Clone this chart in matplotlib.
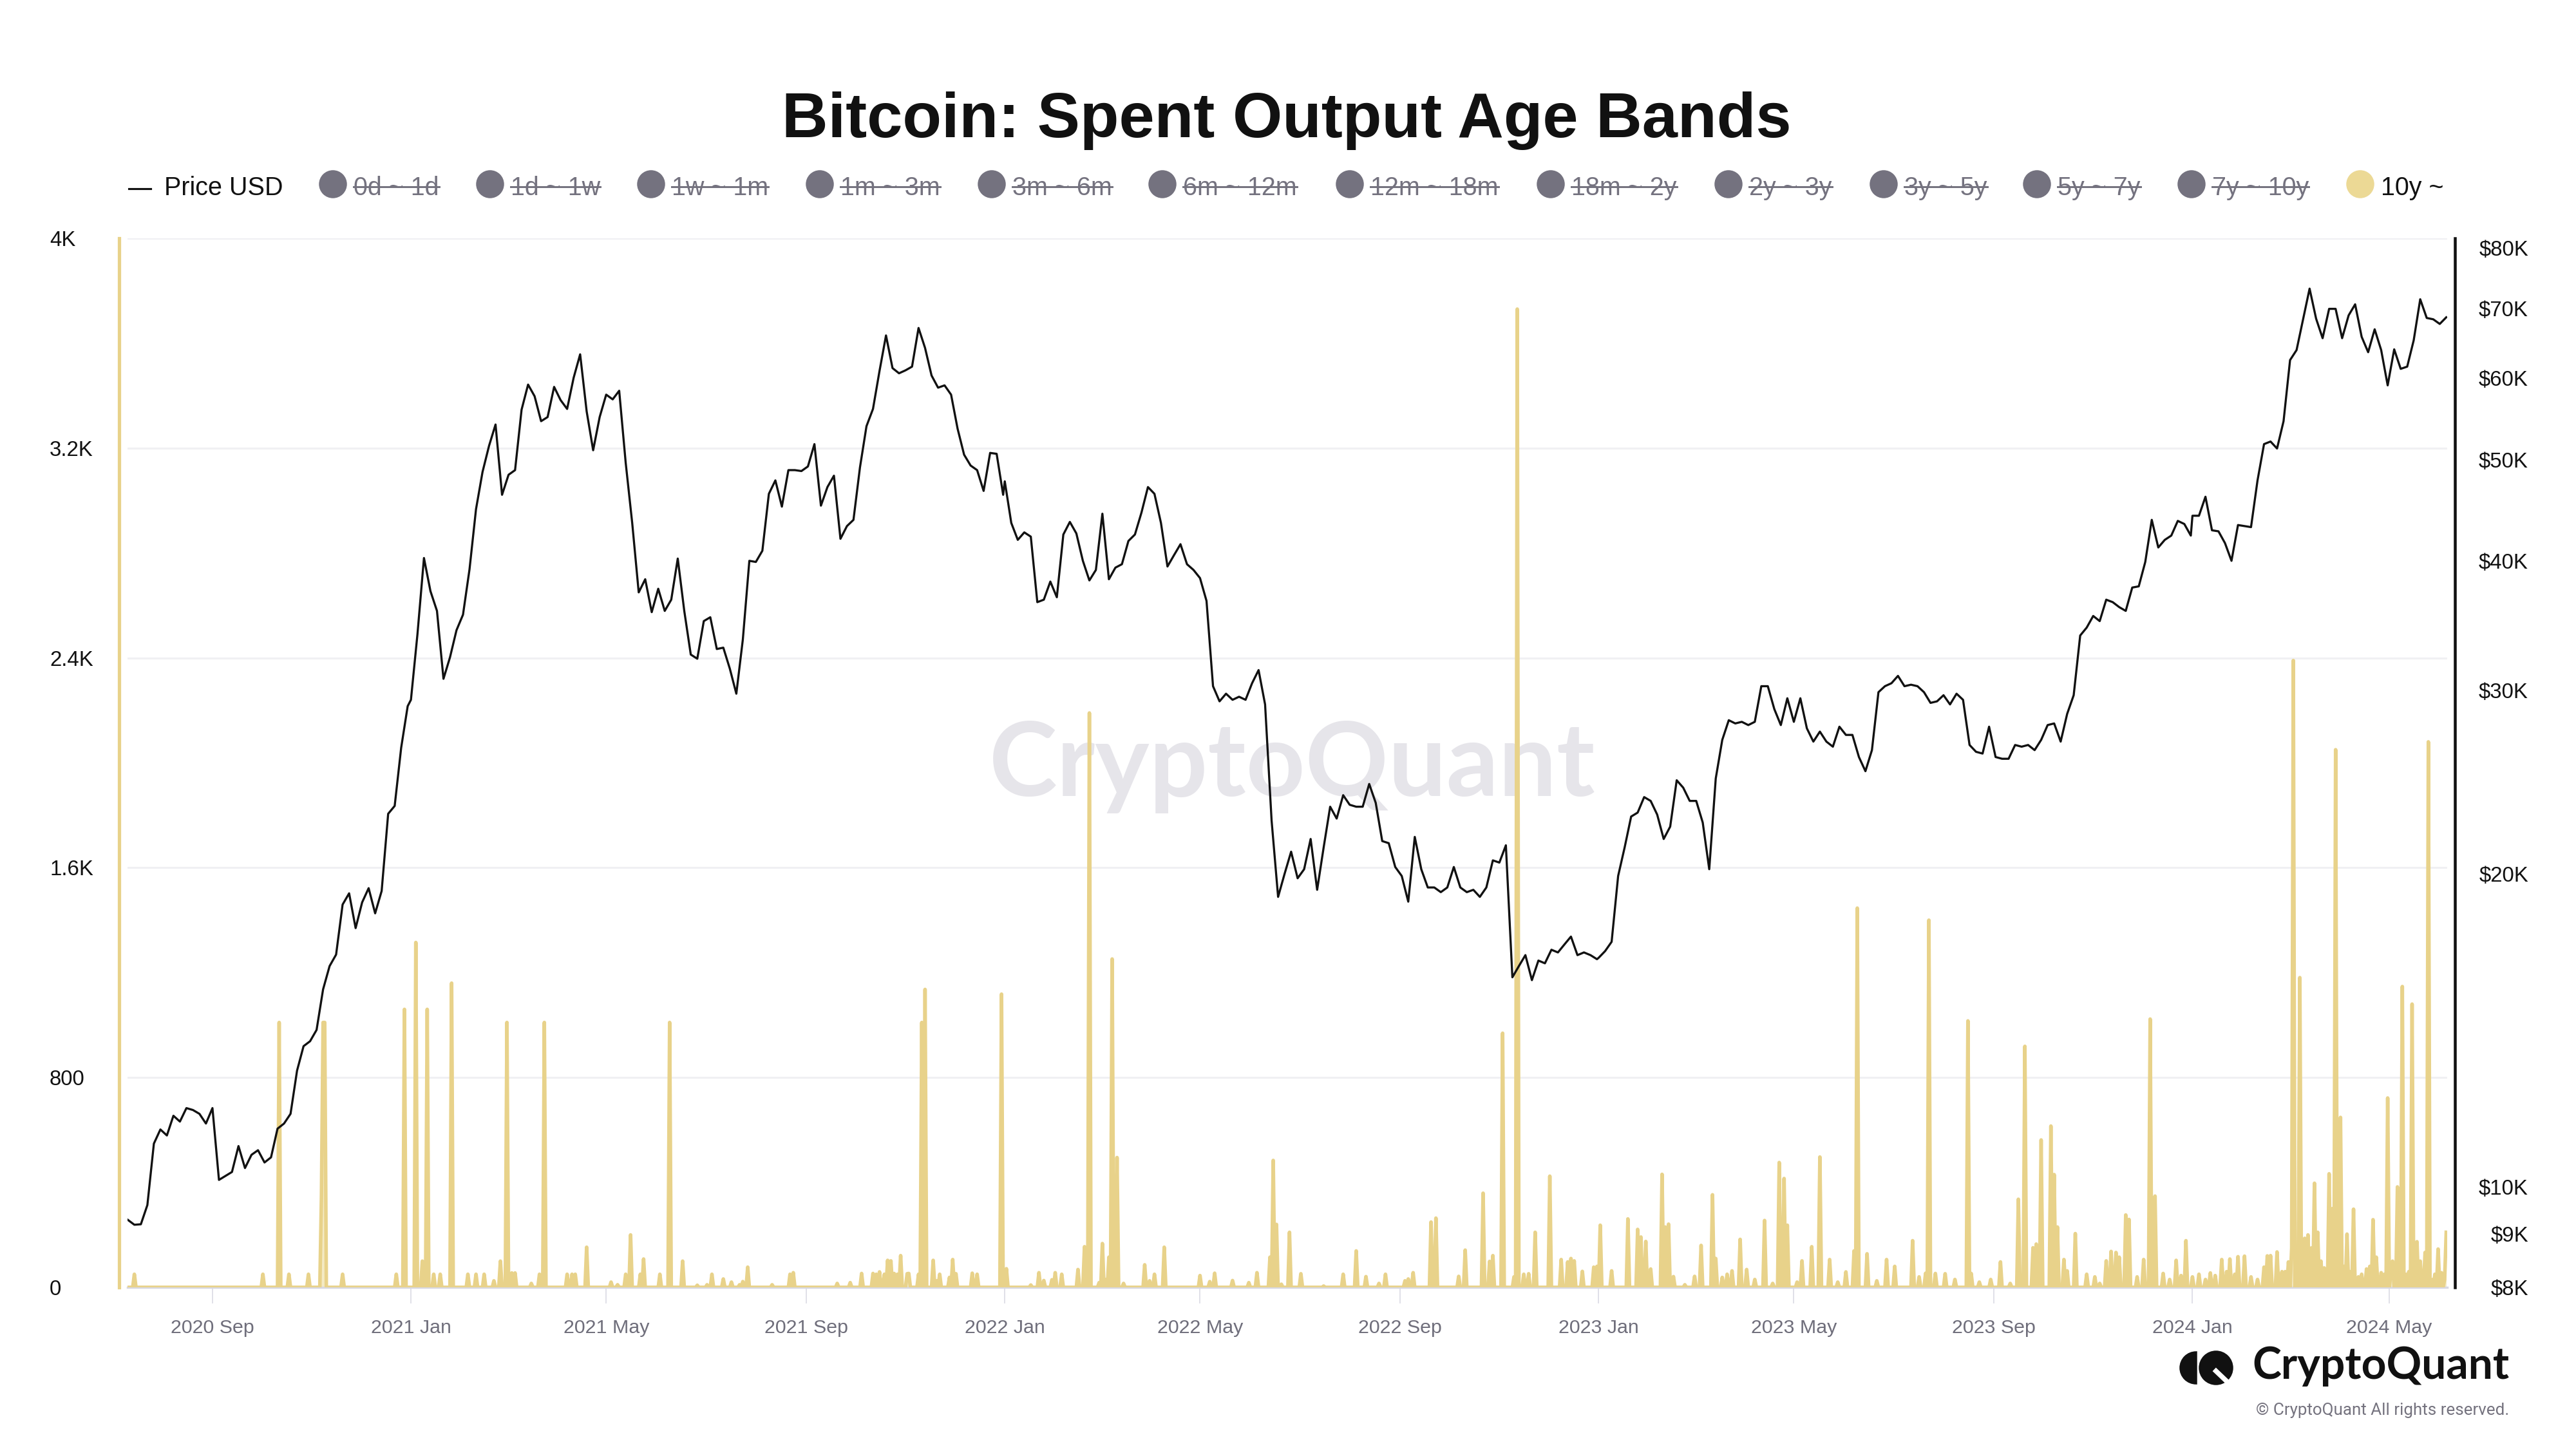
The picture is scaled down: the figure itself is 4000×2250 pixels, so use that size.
import numpy as np
import pandas as pd
import matplotlib
matplotlib.use("Agg")
import matplotlib.pyplot as plt
import matplotlib.dates as mdates
from matplotlib.patches import Circle, Wedge
from matplotlib.lines import Line2D
from matplotlib.transforms import IdentityTransform

# ---------------- data ----------------
title = "Bitcoin: Spent Output Age Bands"
legend_bands = ["0d ~ 1d", "1d ~ 1w", "1w ~ 1m", "1m ~ 3m", "3m ~ 6m", "6m ~ 12m",
                "12m ~ 18m", "18m ~ 2y", "2y ~ 3y", "3y ~ 5y", "5y ~ 7y", "7y ~ 10y"]
active_band = "10y ~"

# BTC price (USD), one value every 4 days from each start date
price_2020_start = "2020-07-11"
price_2020 = [9290, 9190, 9200, 9600, 11000, 11350,
              11200, 11700, 11550, 11900, 11850, 11750, 11500,
              11900, 10150, 10240, 10330, 10940, 10420, 10730, 10840,
              10550, 10670, 11370, 11500, 11750, 12930, 13650, 13800,
              14150, 15480, 16300, 16720, 18680, 19150, 17730,
              18770, 19370, 18320, 19250, 22840, 23240, 26440, 28990]
price_2021_start = "2021-01-01"
price_2021 = [29400, 33990, 40250, 37400, 35800, 30800, 32300, 34300,
              35500, 39250, 44850, 48700, 51600, 54100, 46300,
              48400, 48900, 55900, 59100, 57600, 54500, 55000, 58800,
              57100, 56000, 60000, 63200, 55700, 51100, 55000,
              57800, 57200, 58300, 49700, 43500, 37300, 38400, 35700,
              37600, 35800, 36700, 40200, 35800, 32500, 32200, 35000,
              35300, 32900, 33000, 31500, 29800, 33600, 40000,
              39900, 40900, 46400, 47800, 45100, 48900, 48900, 48800,
              49300, 51800, 45200, 47100, 48300, 42000, 43200, 43800,
              49200, 53900, 56000, 60900, 65900, 61300, 60600,
              61000, 61500, 67000, 64100, 60300, 58700, 59000, 57800,
              53600, 50600, 49400, 48900, 46700, 50800, 50700, 46300]
price_2022_start = "2022-01-01"
price_2022 = [47700, 43500, 41900, 42600, 42200, 36500, 36700, 38200,
              36900, 42400, 43600, 42500, 40000, 38300, 39200,
              44400, 38400, 39400, 39700, 41800, 42400, 44500, 47100,
              46400, 43500, 39500, 40500, 41500, 39700, 39200,
              38500, 36600, 30300, 29300, 29800, 29400, 29600, 29400,
              30500, 31400, 29100, 22500, 19000, 20000, 21000, 19800,
              20200, 21600, 19300, 21200, 23200, 22600, 23800,
              23300, 23200, 23200, 24400, 23400, 21500, 21400, 20300,
              19900, 18800, 21700, 20200, 19400, 19400, 19200, 19400,
              20300, 19400, 19200, 19300, 19000, 19400, 20600,
              20500, 21300, 15900, 16300, 16700, 15800, 16500, 16400,
              16900, 16800, 17100, 17400, 16700, 16800, 16700, 16550]
price_2023_start = "2023-01-01"
price_2023 = [16600, 16850, 17200, 19900, 21200, 22700, 22900, 23700,
              23500, 22800, 21600, 22200, 24600, 24200, 23500,
              23500, 22400, 20200, 24700, 26900, 28100, 27900, 28000,
              27800, 28000, 30300, 30300, 28800, 27800, 29500,
              28000, 29500, 27600, 26800, 27400, 26800, 26500, 27700,
              27200, 27200, 25900, 25100, 26300, 29900, 30300, 30500,
              31000, 30300, 30400, 30300, 29900, 29200, 29300,
              29700, 29100, 29800, 29400, 26600, 26200, 26100, 27700,
              25900, 25800, 25800, 26600, 26500, 26600, 26300, 26900,
              27800, 27900, 26800, 28500, 29700, 33900, 34500,
              35400, 35000, 36700, 36500, 36100, 35800, 37700, 37800,
              39900, 43800, 41200, 41900, 42300, 43700, 43400, 42300]
price_2024_start = "2024-01-01"
price_2024 = [44200, 44200, 46100, 42800, 42700, 41600, 40000, 43300,
              43200, 43100, 47800, 51800, 52100, 51300, 54500,
              62400, 63800, 68300, 73100, 68400, 65500, 69900, 69900,
              65500, 68900, 70600, 65700, 63500, 66800, 63800, 59000,
              63900, 61200, 61500, 65200, 71400, 68500, 68300,
              67600, 68600]

# Spent output 10y~ band (BTC): day offsets from band_origin and values
band_origin = "2020-07-06"
band_first, band_last = "2020-07-11", "2024-06-05"
band_day = [9, 88, 98, 104, 116, 124, 125, 126, 137, 170, 175, 182, 186, 189, 193, 197,
            204, 214, 219, 224, 230, 234, 238, 241, 243, 253, 258, 261, 275, 278, 280,
            287, 302, 306, 311, 314, 320, 322, 332, 338, 346, 355,
            361, 364, 371, 376, 381, 383, 386, 401, 412, 414, 441, 449, 456, 463, 465,
            467, 470, 472, 474, 476, 478, 480, 484, 485, 491, 493, 495, 500, 502, 504,
            510, 512, 514, 524, 527, 542, 545, 560, 565, 568, 573, 575, 579, 589, 593,
            596, 602, 604, 606, 608, 610, 613, 617, 630, 633, 636, 642, 664, 670, 673,
            684, 694, 699, 707, 709, 711, 714,
            719, 726, 740, 752, 760, 766, 774, 778, 790, 792, 795, 806, 809, 823, 827,
            838, 842, 844, 850, 857, 859, 863, 866, 870, 879, 886, 890, 892, 894, 899,
            906, 908, 910, 917, 927, 933, 935, 938, 941, 948, 950, 952, 955, 962, 968,
            972, 979, 981, 985, 988, 991, 996, 1000, 1005, 1011, 1016, 1020, 1023, 1025,
            1031, 1034, 1040, 1045, 1051, 1056, 1061, 1066, 1068, 1074,
            1080, 1086, 1091, 1102, 1106, 1110, 1112, 1116, 1122, 1128, 1136, 1138, 1143,
            1150, 1156, 1162, 1167, 1171, 1176, 1178, 1181, 1187, 1189, 1191, 1195, 1197,
            1202, 1209, 1214, 1217, 1221, 1224, 1227, 1229, 1233, 1235, 1240, 1244, 1248,
            1251, 1256, 1260, 1264, 1267, 1270, 1274, 1278, 1282, 1285, 1288, 1292, 1295,
            1297, 1300, 1302, 1306, 1310, 1314, 1318, 1320, 1322, 1326, 1329, 1331, 1333,
            1335, 1336, 1338, 1340, 1343, 1345, 1347, 1349, 1351, 1353, 1355, 1358, 1360,
            1362, 1365, 1367, 1369, 1371, 1373, 1376, 1378, 1381, 1383, 1385, 1387, 1390,
            1392, 1394, 1396, 1397, 1400, 1403, 1405, 1407, 1409, 1412, 1414, 1417, 1419,
            1421, 1423, 1425, 1427, 1429, 1430]
band_val = [50, 50, 1010, 50, 50, 350, 1010, 1010, 50, 50, 1060, 1315, 100, 1060, 50, 50,
            1160, 50, 50, 50, 25, 100, 1010, 55, 55, 15, 50, 1010, 50, 50, 50,
            153, 20, 10, 50, 200, 50, 108, 50, 1010, 100, 8,
            10, 50, 32, 20, 10, 22, 77, 10, 50, 56, 15, 18, 53, 53, 50,
            59, 50, 103, 101, 53, 50, 121, 52, 53, 50, 1010, 1136, 103, 25, 50,
            38, 106, 52, 54, 50, 1118, 71, 9, 56, 26, 29, 56, 50, 68, 155,
            2190, 18, 167, 30, 115, 1252, 495, 15, 86, 25, 50, 153, 45, 22, 54,
            26, 18, 56, 115, 484, 240, 12,
            210, 52, 5, 50, 139, 41, 15, 50, 25, 32, 56, 249, 264, 42, 142,
            359, 99, 121, 969, 40, 3730, 50, 52, 210, 424, 106, 97, 110, 101, 61,
            77, 80, 237, 63, 261, 221, 192, 175, 70, 431, 230, 241, 41, 10, 42,
            160, 353, 110, 38, 50, 63, 183, 68, 30, 255, 15, 476, 415, 237,
            20, 101, 155, 497, 106, 20, 59, 139, 1446, 128,
            25, 106, 80, 178, 40, 54, 1400, 53, 52, 30, 1016, 53, 20,
            30, 97, 15, 336, 919, 151, 165, 562, 615, 430, 230, 106, 63,
            205, 50, 40, 15, 101, 137, 133, 115, 276, 259, 40, 106, 1023,
            348, 53, 30, 103, 45, 178, 40, 50, 30, 55, 45, 106, 60,
            108, 50, 117, 119, 40, 30, 77, 120, 121, 135, 60, 60, 97,
            150, 2390, 120, 1181, 187, 200, 150, 397, 210, 100, 74, 433, 300,
            2050, 648, 80, 203, 60, 298, 40, 50, 70, 80, 258, 115, 56,
            50, 722, 60, 100, 383, 1147, 50, 60, 1080, 174, 100, 133, 2080,
            30, 50, 146, 56, 30, 210]

left_ticks = [0, 800, 1600, 2400, 3200, 4000]
left_labels = ["0", "800", "1.6K", "2.4K", "3.2K", "4K"]
right_ticks = [8000, 9000, 10000, 20000, 30000, 40000, 50000, 60000, 70000, 80000]
right_labels = ["$8K", "$9K", "$10K", "$20K", "$30K", "$40K", "$50K", "$60K", "$70K", "$80K"]
x_ticks = ["2020-09-01", "2021-01-01", "2021-05-01", "2021-09-01", "2022-01-01", "2022-05-01",
           "2022-09-01", "2023-01-01", "2023-05-01", "2023-09-01", "2024-01-01", "2024-05-01"]

# ---------------- build series ----------------
def seg(start, vals):
    return pd.Series(vals, index=pd.date_range(start, periods=len(vals), freq="4D"))

price = pd.concat([seg(price_2020_start, price_2020), seg(price_2021_start, price_2021),
                   seg(price_2022_start, price_2022), seg(price_2023_start, price_2023),
                   seg(price_2024_start, price_2024)])

band_idx = pd.date_range(band_first, band_last, freq="D")
band = pd.Series(0.0, index=band_idx)
origin = pd.Timestamp(band_origin)
for d, v in zip(band_day, band_val):
    t = origin + pd.Timedelta(days=d)
    if t in band.index:
        band[t] = v

# ---------------- figure ----------------
W, H, DPI = 4000, 2250, 250
PT = DPI / 72.0
plt.rcParams["font.family"] = ["Liberation Sans", "DejaVu Sans"]
fig = plt.figure(figsize=(W / DPI, H / DPI), dpi=DPI)
fig.patch.set_facecolor("white")

def fx(px): return px / W
def fy(py): return 1 - py / H

L, R, T, B = 198, 3800, 370, 1999
ax = fig.add_axes([fx(L), fy(B), fx(R) - fx(L), fy(T) - fy(B)])
ax2 = ax.twinx()

GOLD = "#e8d28a"
GRAY = "#74727f"

ax.fill_between(band.index, band.values, 0, color="#f1e3b0", alpha=0.75, lw=0, zorder=2)
ax.plot(band.index, band.values, color=GOLD, lw=1.6, solid_joinstyle="round", zorder=3)
ax.set_ylim(0, 4000)
x0 = mdates.date2num(pd.Timestamp("2020-07-10 19:00"))
x1 = mdates.date2num(pd.Timestamp("2024-06-05 14:00"))
ax.set_xlim(x0, x1)

ax2.plot(price.index, price.values, color="#111111", lw=0.95, zorder=5)
ax2.set_yscale("log")
ax2.set_ylim(8034, 81725)
ax2.set_xlim(x0, x1)

# grid
ax.set_axisbelow(True)
ax.set_yticks(left_ticks)
ax.yaxis.grid(True, color="#f0f0f3", lw=0.9)
ax.xaxis.grid(False)

# spines
for s in ["top", "right"]:
    ax.spines[s].set_visible(False)
ax.spines["left"].set_color(GOLD)
ax.spines["left"].set_linewidth(1.5)
ax.spines["left"].set_position(("outward", 13 / PT))
ax.spines["bottom"].set_color("#d8d8e2")
ax.spines["bottom"].set_linewidth(1.0)
for s in ["top", "left", "bottom"]:
    ax2.spines[s].set_visible(False)
ax2.spines["right"].set_color("#111111")
ax2.spines["right"].set_linewidth(1.3)
ax2.spines["right"].set_position(("outward", 12 / PT))

# left ticks
ax.set_yticklabels(left_labels)
ax.tick_params(axis="y", length=0, pad=(185 - 77) / PT, labelsize=9.5, labelcolor="#111111")
for lab in ax.get_yticklabels():
    lab.set_horizontalalignment("left")

# right ticks
ax2.set_yticks(right_ticks)
ax2.set_yticklabels(right_labels)
ax2.yaxis.set_minor_locator(matplotlib.ticker.NullLocator())
ax2.tick_params(axis="y", which="both", length=0, pad=(3926 - 3812) / PT, labelsize=9.5,
                labelcolor="#111111")
for lab in ax2.get_yticklabels():
    lab.set_horizontalalignment("right")

# x ticks
xt = [pd.Timestamp(t) for t in x_ticks]
ax.set_xticks(mdates.date2num(xt))
ax.set_xticklabels([t.strftime("%Y %b") for t in xt])
ax.tick_params(axis="x", length=25 / PT, width=0.45, color="#d8d8e2", pad=7,
               labelsize=8.75, labelcolor="#6f6e7b")
ax2.tick_params(axis="x", length=0, labelbottom=False, labeltop=False)

# watermark
wm = ax.text(fx(2007), fy(1236), "CryptoQuant", transform=fig.transFigure, ha="center",
             va="baseline", fontsize=46, color="#e6e5ea", family=["Lato", "DejaVu Sans"],
             fontweight="bold", zorder=0.5)

# title
fig.text(fx(1998), fy(213), title, ha="center", va="baseline", fontsize=28.6,
         fontweight="bold", color="#111111")

# legend
LY = 303
fig.add_artist(Line2D([200, 234], [H - 293, H - 293], color="#111111", lw=0.9,
                      transform=IdentityTransform()))
fig.text(fx(255), fy(LY), "Price USD", ha="left", va="baseline", fontsize=11.4, color="#111111")
circ_x = [517, 761, 1011, 1273, 1540, 1805, 2096, 2408, 2684, 2925, 3163, 3403]
renderer = fig.canvas.get_renderer()
for cx, lab in zip(circ_x, legend_bands):
    fig.add_artist(Circle((cx, H - 286), 20, color=GRAY, transform=IdentityTransform()))
    t = fig.text(fx(cx + 32), fy(LY), lab, ha="left", va="baseline", fontsize=11.4, color=GRAY)
    bb = t.get_window_extent(renderer=renderer)
    fig.add_artist(Line2D([bb.x0, bb.x1], [H - 290, H - 290], color=GRAY, lw=0.85,
                          transform=IdentityTransform()))
fig.add_artist(Circle((3665, H - 286), 20, color="#ecd995", transform=IdentityTransform()))
fig.text(fx(3697), fy(LY), active_band, ha="left", va="baseline", fontsize=11.4, color="#111111")

# logo
fig.add_artist(Wedge((3410, H - 2124), 24, 90, 270, color="#111111", transform=IdentityTransform()))
fig.add_artist(Circle((3441, H - 2124), 25, color="#111111", transform=IdentityTransform()))
fig.add_artist(Line2D([3441, 3462], [H - 2129, H - 2149], color="white", lw=2.2,
                      transform=IdentityTransform()))
fig.text(fx(3896), fy(2141), "CryptoQuant", ha="right", va="baseline", fontsize=19.5,
         fontweight="bold", color="#111111", family=["Lato", "DejaVu Sans"])
fig.text(fx(3896), fy(2197), "\u00a9 CryptoQuant All rights reserved.", ha="right",
         va="baseline", fontsize=7.5, color="#75737f", family=["Roboto", "DejaVu Sans"])

fig.savefig("out.png", dpi=DPI, facecolor="white")
